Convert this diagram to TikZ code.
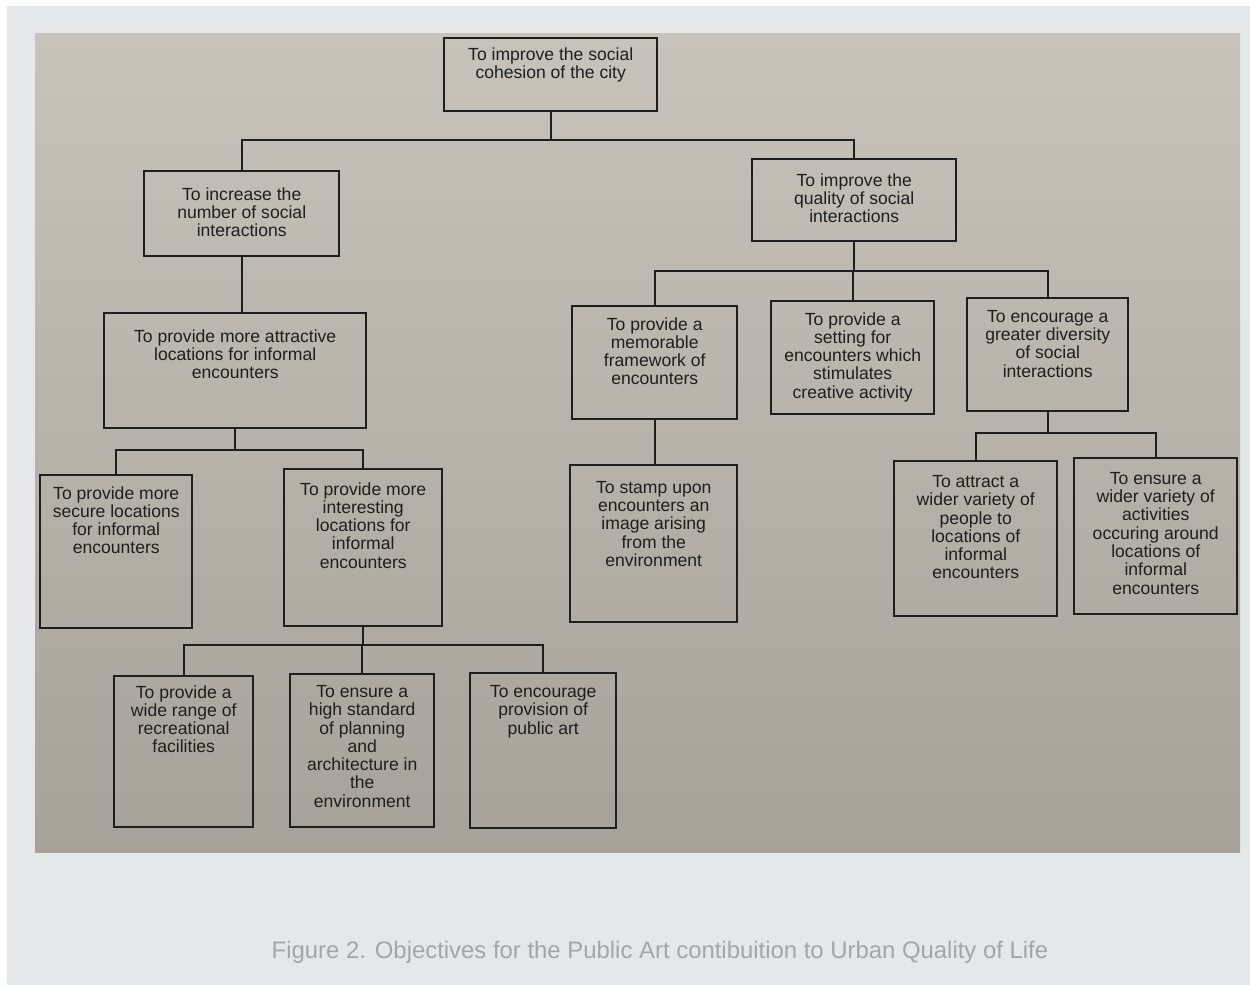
\documentclass[tikz,border=0pt]{standalone}
\usepackage{fontspec}
\setmainfont{Liberation Sans}
\usetikzlibrary{calc}
\definecolor{pagebg}{HTML}{E6E7E8}
\definecolor{papertop}{HTML}{C7C3BB}
\definecolor{paperbot}{HTML}{A7A299}
\definecolor{ink}{HTML}{1E1E1C}
\definecolor{captionc}{HTML}{A3A6A9}
\tikzset{
  box/.style={draw=ink, line width=1.4pt, inner sep=0pt},
  txt/.style={font=\fontsize{10}{10.4}\selectfont, align=center, text=ink, inner sep=0pt},
  link/.style={draw=ink, line width=1.2pt},
}
% \objbox{name}{x1}{y1}{x2}{y2}{text top}{text}
\newcommand\objbox[7]{%
  \node[box, anchor=north west, minimum width={(#4-#2)*0.02cm},
        minimum height={(#5-#3)*0.02cm}] (#1) at (#2,#3) {};
  \node[txt, anchor=north] (#1t) at ($(#1.north)+(0,#6-#3)$) {#7};
}
\begin{document}
\begin{tikzpicture}[x=0.02cm,y=-0.02cm]
\useasboundingbox (0,0) rectangle (1250,985);
\fill[white] (0,0) rectangle (1250,985);
\fill[pagebg] (7,6) rectangle (1250,985);
\shade[top color=papertop, bottom color=paperbot] (35,33) rectangle (1240,852);

\objbox{top}{443}{37}{656}{110}{47}{To improve the social\\cohesion of the city}
\objbox{la}{143}{170}{338}{255}{187}{To increase the\\number of social\\interactions}
\objbox{ra}{751}{158}{955}{240}{173}{To improve the\\quality of social\\interactions}
\objbox{lb}{103}{312}{365}{427}{329}{To provide more attractive\\locations for informal\\encounters}
\objbox{rb1}{571}{305}{736}{418}{317}{To provide a\\memorable\\framework of\\encounters}
\objbox{rb2}{770}{300}{933}{413}{312}{To provide a\\setting for\\encounters which\\stimulates\\creative activity}
\objbox{rb3}{966}{297}{1127}{410}{310}{To encourage a\\greater diversity\\of social\\interactions}
\objbox{lc1}{39}{474}{191}{627}{486}{To provide more\\secure locations\\for informal\\encounters}
\objbox{lc2}{283}{468}{441}{625}{482}{To provide more\\interesting\\locations for\\informal\\encounters}
\objbox{rc1}{569}{464}{736}{621}{481}{To stamp upon\\encounters an\\image arising\\from the\\environment}
\objbox{rc2}{893}{460}{1056}{615}{475}{To attract a\\wider variety of\\people to\\locations of\\informal\\encounters}
\objbox{rc3}{1073}{457}{1236}{613}{472}{To ensure a\\wider variety of\\activities\\occuring around\\locations of\\informal\\encounters}
\objbox{ld1}{113}{675}{252}{826}{685}{To provide a\\wide range of\\recreational\\facilities}
\objbox{ld2}{289}{673}{433}{826}{685}{To ensure a\\high standard\\of planning\\and\\architecture in\\the\\environment}
\objbox{ld3}{469}{672}{615}{827}{685}{To encourage\\provision of\\public art}

% junction heights of the connector bars
\coordinate (j0) at (545,140);
\coordinate (j1) at (232,450);
\coordinate (j2) at (356,645);
\coordinate (j3) at (848,271);
\coordinate (j4) at (1048,433);

\draw[link] (top.south) -- (top.south |- j0);
\draw[link] (la.north) |- (ra.north |- j0) -- (ra.north);
\draw[link] (la.south) -- (la.south |- lb.north);

\draw[link] (lb.south) -- (lb.south |- j1);
\draw[link] (lc1.north) |- (lc2.north |- j1) -- (lc2.north);

\draw[link] (lc2.south) -- (lc2.south |- j2);
\draw[link] (ld1.north) |- (ld3.north |- j2) -- (ld3.north);
\draw[link] (ld2.north) -- (ld2.north |- j2);

\draw[link] (ra.south) -- (ra.south |- j3);
\draw[link] (rb1.north) |- (rb3.north |- j3) -- (rb3.north);
\draw[link] (rb2.north) -- (rb2.north |- j3);

\draw[link] (rb1.south) -- (rb1.south |- rc1.north);

\draw[link] (rb3.south) -- (rb3.south |- j4);
\draw[link] (rc2.north) |- (rc3.north |- j4) -- (rc3.north);

\node[font=\fontsize{13.6}{15}\selectfont, text=captionc] (caption) at (660,952)
  {Figure 2. Objectives for the Public Art contibuition to Urban Quality of Life};
\end{tikzpicture}
\end{document}
